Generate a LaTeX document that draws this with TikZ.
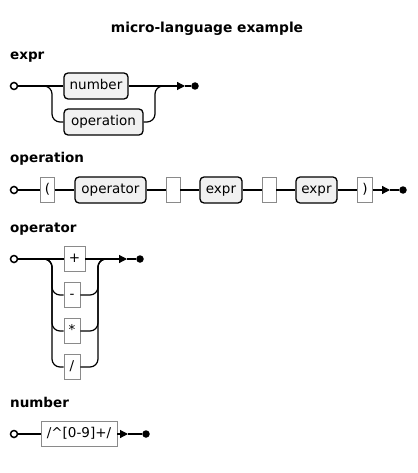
\documentclass[tikz,border=0pt]{standalone}
\usepackage{fontspec}
\setmainfont{DejaVu Sans}
\usetikzlibrary{arrows.meta}
\definecolor{ntfill}{HTML}{F1F1F1}
\definecolor{termgray}{HTML}{8A8A8A}
\begin{document}
\begin{tikzpicture}[x=1pt,y=-1pt,
  wire/.style={draw=black, line width=1.2pt, rounded corners=8pt},
  boxtext/.style={inner sep=0pt, text height=9.5pt, text depth=3pt, font=\fontsize{13.5}{16}\selectfont},
  nonterm/.style={boxtext, draw=black, line width=1.3pt, fill=ntfill, rounded corners=4pt, minimum height=26pt},
  term/.style={boxtext, draw=termgray, line width=0.8pt, fill=white, minimum height=25pt},
  startc/.style={circle, draw=black, line width=1.5pt, fill=white, minimum size=7pt, inner sep=0pt},
  endc/.style={circle, fill=black, minimum size=7.5pt, inner sep=0pt},
  heading/.style={anchor=base west, inner sep=0pt, font=\bfseries\fontsize{13.5}{16}\selectfont},
  arr/.style={wire, -{Triangle[length=8pt,width=8pt]}}
]
\useasboundingbox (0,0) rectangle (417,473);

\node[anchor=base, inner sep=0pt, font=\bfseries\fontsize{13.8}{16}\selectfont] (title) at (207,33) {micro-language example};

% ---------- expr ----------
\node[heading] (hexpr) at (10,60) {expr};
\node[startc] (s1) at (14,86) {};
\node[nonterm, minimum width=64pt] (n1) at (96,86) {number};
\node[nonterm, minimum width=79pt] (n2) at (103.5,122) {operation};
\coordinate (j1) at (40,86);
\coordinate (k1) at (167,86);
\coordinate (a1) at (185,86);
\node[endc] (e1) at (195,86) {};
\draw[wire] (s1) -- (n1);
\draw[wire] (j1) -- (52,86) -- (52,122) -- (n2.west);
\draw[wire] (n2.east) -- (155,122) -- (155,86) -- (k1);
\draw[arr] (n1.east) -- (a1);
\draw[wire] (a1) -- (e1);

% ---------- operation ----------
\node[heading] (hop) at (10,163) {operation};
\node[startc] (s2) at (14,190) {};
\node[term, minimum width=14pt] (t1) at (47.5,190) {(};
\node[nonterm, minimum width=71pt] (n3) at (110.5,190) {operator};
\node[term, minimum width=14pt] (t2) at (173,190) {};
\node[nonterm, minimum width=42pt] (n4) at (221,190) {expr};
\node[term, minimum width=14pt] (t3) at (269,190) {};
\node[nonterm, minimum width=41pt] (n5) at (316.5,190) {expr};
\node[term, minimum width=15pt] (t4) at (365,190) {)};
\coordinate (a2) at (390,190);
\node[endc] (e2) at (403,190) {};
\draw[wire] (s2) -- (t1);
\draw[wire] (t1) -- (n3);
\draw[wire] (n3) -- (t2);
\draw[wire] (t2) -- (n4);
\draw[wire] (n4) -- (t3);
\draw[wire] (t3) -- (n5);
\draw[wire] (n5) -- (t4);
\draw[arr] (t4.east) -- (a2);
\draw[wire] (a2) -- (e2);

% ---------- operator ----------
\node[heading] (hopr) at (10,232) {operator};
\node[startc] (s3) at (14,259) {};
\node[term, minimum width=21pt] (p1) at (74.5,259) {+};
\node[term, minimum width=16pt] (p2) at (72,295) {-};
\node[term, minimum width=16pt] (p3) at (72,331) {*};
\node[term, minimum width=16pt] (p4) at (72,367) {/};
\coordinate (j3) at (40,259);
\coordinate (k3) at (110,259);
\coordinate (a3) at (127,259);
\node[endc] (e3) at (140,259) {};
\draw[wire] (s3) -- (p1);
\draw[wire] (j3) -- (52,259) -- (52,295) -- (p2.west);
\draw[wire] (j3) -- (52,259) -- (52,331) -- (p3.west);
\draw[wire] (j3) -- (52,259) -- (52,367) -- (p4.west);
\draw[wire] (p2.east) -- (98,295) -- (98,259) -- (k3);
\draw[wire] (p3.east) -- (98,331) -- (98,259) -- (k3);
\draw[wire] (p4.east) -- (98,367) -- (98,259) -- (k3);
\draw[arr] (p1.east) -- (a3);
\draw[wire] (a3) -- (e3);

% ---------- number ----------
\node[heading] (hnum) at (10,407) {number};
\node[startc] (s4) at (14,434) {};
\node[term, minimum width=76pt] (r1) at (79,434) {/\textasciicircum[0-9]+/};
\coordinate (a4) at (128,434);
\node[endc] (e4) at (146,434) {};
\draw[wire] (s4) -- (r1);
\draw[arr] (r1.east) -- (a4);
\draw[wire] (a4) -- (e4);
\end{tikzpicture}
\end{document}
